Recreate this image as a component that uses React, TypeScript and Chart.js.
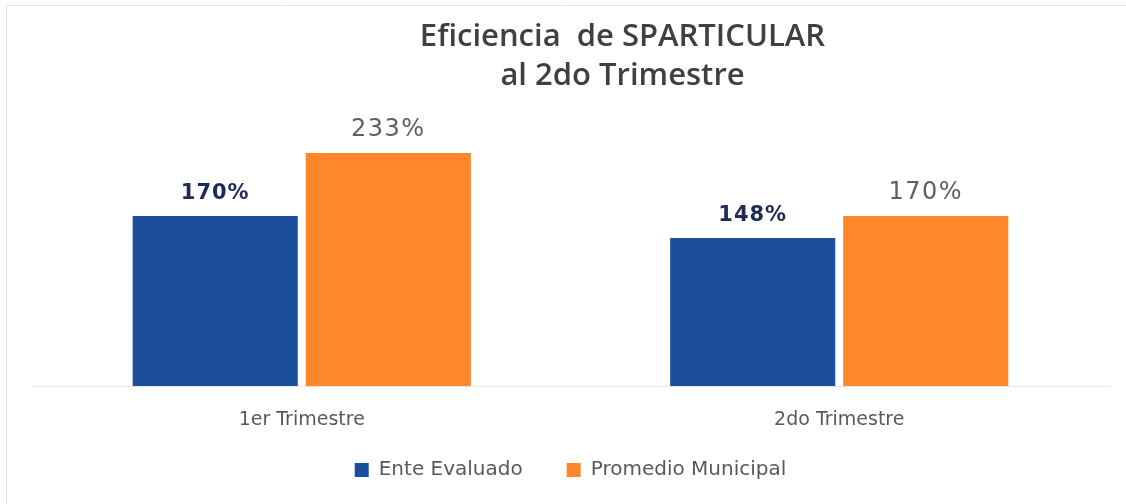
import React, { useEffect, useRef } from "react";
import { Chart, registerables } from "chart.js";

Chart.register(...registerables);

const categories = ["1er Trimestre", "2do Trimestre"];
const seriesNames = ["Ente Evaluado", "Promedio Municipal"];
const enteEvaluado = [170, 148];
const promedioMunicipal = [233, 170];
const titleLines = ["Eficiencia  de SPARTICULAR", "al 2do Trimestre"];
const yMin = 0;
const yMax = 300;

const BLUE = "#1B4F9E";
const ORANGE = "#FD872A";
const GRAY_TEXT = "#595959";

export default function App() {
  const ref = useRef<HTMLCanvasElement | null>(null);

  useEffect(() => {
    document.body.style.margin = "0";
    const canvas = ref.current;
    if (!canvas) return;

    const framePlugin = {
      id: "frame",
      beforeDraw(chart: any) {
        const ctx = chart.ctx;
        ctx.save();
        ctx.fillStyle = "#ffffff";
        ctx.fillRect(0, 0, chart.width, chart.height);
        ctx.strokeStyle = "#e2e2e2";
        ctx.lineWidth = 1;
        ctx.beginPath();
        ctx.moveTo(6.5, chart.height);
        ctx.lineTo(6.5, 5.5);
        ctx.lineTo(chart.width, 5.5);
        ctx.stroke();
        ctx.restore();
      },
    };

    const titlePlugin = {
      id: "titleLines",
      afterDraw(chart: any) {
        const ctx = chart.ctx;
        const cx = (chart.chartArea.left + chart.chartArea.right) / 2 + 52;
        ctx.save();
        ctx.font = "600 31px 'Open Sans'";
        ctx.fillStyle = "#404040";
        ctx.textAlign = "center";
        ctx.textBaseline = "middle";
        ctx.fillText(titleLines[0], cx, 37);
        ctx.fillText(titleLines[1], cx, 76);
        ctx.restore();
      },
    };

    const labelPlugin = {
      id: "valueLabels",
      afterDatasetsDraw(chart: any) {
        const ctx = chart.ctx;
        ctx.save();
        ctx.textAlign = "center";
        ctx.textBaseline = "alphabetic";
        chart.data.datasets.forEach((ds: any, i: number) => {
          const meta = chart.getDatasetMeta(i);
          if (i === 0) {
            ctx.font = "bold 21px 'DejaVu Sans'";
            ctx.fillStyle = "#1E2B57";
            (ctx as any).letterSpacing = "1px";
          } else {
            ctx.font = "normal 24px 'DejaVu Sans'";
            ctx.fillStyle = "#5f5f5f";
            (ctx as any).letterSpacing = "1.5px";
          }
          meta.data.forEach((bar: any, j: number) => {
            ctx.fillText(ds.data[j] + "%", bar.x, bar.y - 17);
          });
        });
        ctx.restore();
      },
    };

    const chart = new Chart(canvas, {
      type: "bar",
      data: {
        labels: categories,
        datasets: [
          {
            label: seriesNames[0],
            data: enteEvaluado,
            backgroundColor: BLUE,
            categoryPercentage: 0.644,
            barPercentage: 0.954,
          },
          {
            label: seriesNames[1],
            data: promedioMunicipal,
            backgroundColor: ORANGE,
            categoryPercentage: 0.644,
            barPercentage: 0.954,
          },
        ],
      },
      options: {
        animation: false,
        responsive: true,
        maintainAspectRatio: false,
        layout: { padding: { top: 86, left: 33, right: 18, bottom: 14 } },
        plugins: {
          title: { display: false },
          tooltip: { enabled: false },
          legend: {
            display: true,
            position: "bottom",
            labels: {
              boxWidth: 14,
              boxHeight: 14,
              padding: 44,
              color: GRAY_TEXT,
              font: { family: "'DejaVu Sans'", size: 20 },
            },
          },
        },
        scales: {
          x: {
            grid: { display: false, drawTicks: false },
            border: { display: true, color: "#e6e6e6" },
            ticks: {
              mirror: true,
              padding: -45,
              color: GRAY_TEXT,
              font: { family: "'DejaVu Sans'", size: 19 },
            },
            afterFit(scale: any) {
              scale.height = 30;
            },
          },
          y: {
            display: false,
            min: yMin,
            max: yMax,
          },
        },
      },
      plugins: [framePlugin, titlePlugin, labelPlugin],
    });

    return () => chart.destroy();
  }, []);

  return (
    <div style={{ position: "fixed", left: 0, top: 0, width: 1126, height: 504 }}>
      <canvas ref={ref} />
    </div>
  );
}
